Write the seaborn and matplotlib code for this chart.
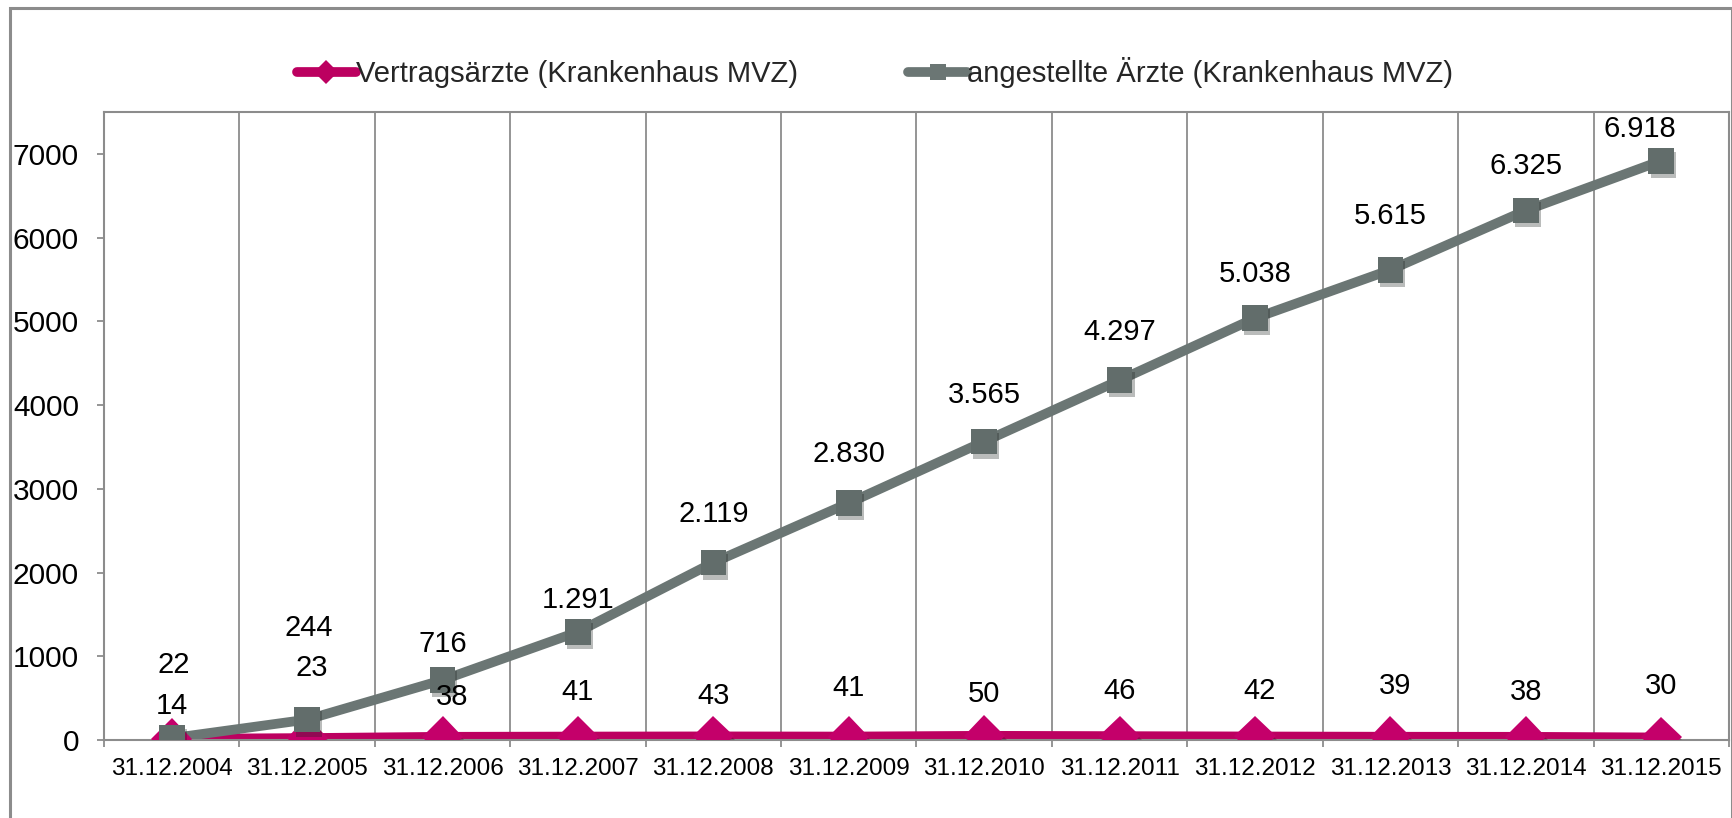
import numpy as np
import pandas as pd
import seaborn as sns
import matplotlib.pyplot as plt
import matplotlib.patheffects as pe
from matplotlib.patches import Rectangle

# data
dates = ['31.12.2004', '31.12.2005', '31.12.2006', '31.12.2007', '31.12.2008', '31.12.2009',
         '31.12.2010', '31.12.2011', '31.12.2012', '31.12.2013', '31.12.2014', '31.12.2015']
vertragsaerzte = [14, 23, 38, 41, 43, 41, 50, 46, 42, 39, 38, 30]
angestellte = [22, 244, 716, 1291, 2119, 2830, 3565, 4297, 5038, 5615, 6325, 6918]
series_names = ['Vertragsärzte (Krankenhaus MVZ)', 'angestellte Ärzte (Krankenhaus MVZ)']

# label offsets in pixels (dx, dy) - the labels were nudged by hand in the original
off_vert = [(0, 33), (5, 70), (10, 40), (0, 45), (0, 40), (0, 49), (0, 42), (0, 45), (5, 45), (5, 51), (0, 45), (0, 51)]
off_ang = [(2, 73), (2, 92), (0, 36), (0, 32), (0, 49), (0, 49), (0, 46), (0, 48), (0, 44), (0, 54), (0, 44), (-21, 32)]

magenta = '#BC0060'
grey = '#6B7674'
frame_col = '#8C8C8C'

df = pd.DataFrame({
    'date': dates * 2,
    'value': vertragsaerzte + angestellte,
    'series': [series_names[0]] * len(dates) + [series_names[1]] * len(dates),
})

sns.set_style('white')
plt.rcParams['font.family'] = ['Liberation Sans', 'DejaVu Sans']

W, H = 1733, 818
fig = plt.figure(figsize=(W / 100, H / 100), dpi=100)
ax = fig.add_axes([104 / W, 1 - 740 / H, (1729 - 104) / W, (740 - 112) / H])

sns.lineplot(data=df, x='date', y='value', hue='series', style='series',
             hue_order=series_names, style_order=series_names,
             palette=[magenta, grey], markers={series_names[0]: 'D', series_names[1]: 's'},
             dashes=False, sort=False, linewidth=7, markersize=0, markeredgewidth=0, ax=ax)
for ln in ax.lines:
    ln.set_solid_capstyle('round')

# markers drawn on top with a soft drop shadow
shadow = [pe.SimplePatchShadow(offset=(1.5, -3), alpha=0.3), pe.Normal()]
ax.plot(range(len(dates)), vertragsaerzte, ls='none', marker='D', ms=21, mew=0,
        color='#C4006A', path_effects=shadow, zorder=3)
ax.plot(range(len(dates)), angestellte, ls='none', marker='s', ms=18.5, mew=0,
        color='#626D6B', path_effects=shadow, zorder=3)

px2pt = 0.72
for i, v in enumerate(vertragsaerzte):
    dx, dy = off_vert[i]
    ax.annotate(str(v), (i, v), xytext=(dx * px2pt, dy * px2pt), textcoords='offset points',
                ha='center', va='center', fontsize=21, color='black')
for i, v in enumerate(angestellte):
    dx, dy = off_ang[i]
    ax.annotate(f'{v:,}'.replace(',', '.'), (i, v), xytext=(dx * px2pt, dy * px2pt),
                textcoords='offset points', ha='center', va='center', fontsize=21, color='black')

ax.set_xlim(-0.5, len(dates) - 0.5)
ax.set_ylim(0, 7500)
ax.set_yticks(range(0, 7001, 1000))
ax.set_xticks(range(len(dates)))
ax.set_xticklabels(dates)
ax.set_xticks(np.arange(-0.5, len(dates), 1), minor=True)
ax.set_xlabel('')
ax.set_ylabel('')

ax.tick_params(axis='x', which='major', length=0, pad=13, labelsize=17.5, colors='black')
ax.tick_params(axis='x', which='minor', length=5, width=1.3, color=frame_col, direction='out', bottom=True)
ax.tick_params(axis='y', which='major', length=5, width=1.3, color=frame_col, direction='out',
               left=True, pad=13, labelsize=21.5, labelcolor='black')
ax.grid(False)
ax.grid(True, which='minor', axis='x', color=frame_col, linewidth=1.3)
for s in ax.spines.values():
    s.set_color(frame_col)
    s.set_linewidth(1.5)

handles, labels = ax.get_legend_handles_labels()
leg = ax.legend(handles, labels, loc='center', bbox_to_anchor=(875 / W, 1 - 73 / H),
                bbox_transform=fig.transFigure, ncol=2, frameon=False, fontsize=21,
                handlelength=2.0, handletextpad=0.0, columnspacing=3.8)
for h in leg.legend_handles:
    h.set_markersize(12)
    h.set_linewidth(7)
    h.set_solid_capstyle('round')

fig.add_artist(Rectangle((10 / W, -0.05), (1732 - 10) / W, 1.05 - 8 / H, transform=fig.transFigure,
                         fill=False, edgecolor=frame_col, linewidth=2.2))

fig.savefig('out.png', dpi=100)
